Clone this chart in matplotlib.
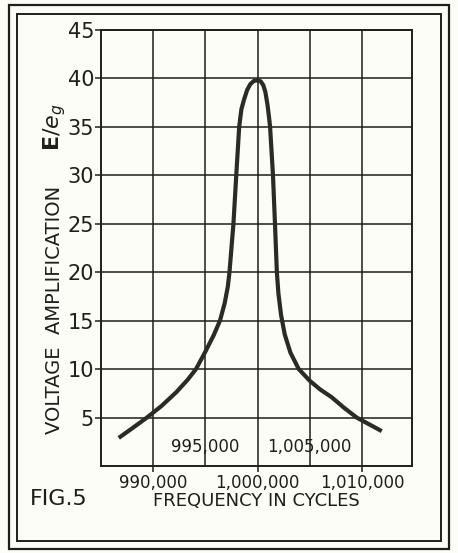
import matplotlib.pyplot as plt
from matplotlib.patches import Rectangle

# Данные кривой (частота, усиление)
freq = [986700, 988000, 989400, 990800, 992200, 993300, 994100, 995000, 995800, 996400,
        996850, 997150, 997310, 997500, 997690, 997960, 998240, 998450, 998700, 999000,
        999300, 999650, 1000000, 1000300, 1000550, 1000750, 1000950, 1001100, 1001200,
        1001480, 1001670, 1001850, 1002000, 1002250, 1002600, 1003150, 1003950, 1005000,
        1006000, 1007100, 1008300, 1009500, 1010700, 1011900]
gain = [2.9, 3.9, 5.0, 6.2, 7.6, 8.9, 10.0, 11.8, 13.5, 15.0,
        16.8, 18.5, 20.0, 22.5, 25.0, 30.0, 35.0, 36.8, 37.8, 38.8,
        39.4, 39.75, 39.8, 39.7, 39.3, 38.6, 37.3, 36.0, 35.0,
        30.0, 25.0, 20.0, 17.8, 15.6, 13.6, 11.7, 10.0, 8.8,
        7.9, 7.1, 6.0, 5.0, 4.3, 3.6]

y_ticks = [5, 10, 15, 20, 25, 30, 35, 40, 45]
x_major = [990000, 1000000, 1010000]
x_major_labels = ["990,000", "1,000,000", "1,010,000"]
x_minor = [995000, 1005000]
x_minor_labels = ["995,000", "1,005,000"]

ink = "#1e1e1a"
paper = "#fdfdf8"

fig = plt.figure(figsize=(4.58, 5.53), dpi=100, facecolor=paper)
ax = fig.add_axes([0.2205, 0.1573, 0.6791, 0.7885], facecolor=paper)

ax.plot(freq, gain, color="#2b2b25", lw=3.0, solid_capstyle="butt")

ax.set_xlim(985000, 1014800)
ax.set_ylim(0, 45)

ax.set_yticks(y_ticks)
ax.set_yticklabels([str(v) for v in y_ticks], fontsize=15, color=ink)
ax.set_xticks(x_major)
ax.set_xticklabels(x_major_labels, fontsize=12, color=ink)
ax.set_xticks(x_minor, minor=True)
ax.set_xticklabels(x_minor_labels, minor=True, fontsize=12, color=ink)

ax.tick_params(axis="y", length=4, width=1.1, color=ink, pad=1)
ax.tick_params(axis="x", which="major", length=4, width=1.1, color=ink, pad=2)
ax.tick_params(axis="x", which="minor", length=0, pad=-20)

ax.grid(True, which="both", color=ink, lw=1.1)
for s in ax.spines.values():
    s.set_color(ink)
    s.set_linewidth(1.4)

ax.set_xlabel("FREQUENCY IN CYCLES", fontsize=13, color=ink, labelpad=0)
fig.text(0.12, 0.44, "VOLTAGE  AMPLIFICATION", rotation=90, fontsize=14,
         color=ink, ha="center", va="center")
fig.text(0.12, 0.77, r"$\mathbf{E}/e_g$", rotation=90, fontsize=16,
         color=ink, ha="center", va="center")
fig.text(0.065, 0.098, "FIG.5", fontsize=16, color=ink, ha="left", va="center")

# двойная рамка
for (x0, y0, x1, y1), lw in [((9, 5, 449, 549), 1.6), ((17, 14, 441, 541), 1.4)]:
    fig.patches.append(Rectangle((x0 / 458, 1 - y1 / 553), (x1 - x0) / 458, (y1 - y0) / 553,
                                 transform=fig.transFigure, fill=False, ec=ink, lw=lw))

fig.savefig("out.png", dpi=100, facecolor=paper)
